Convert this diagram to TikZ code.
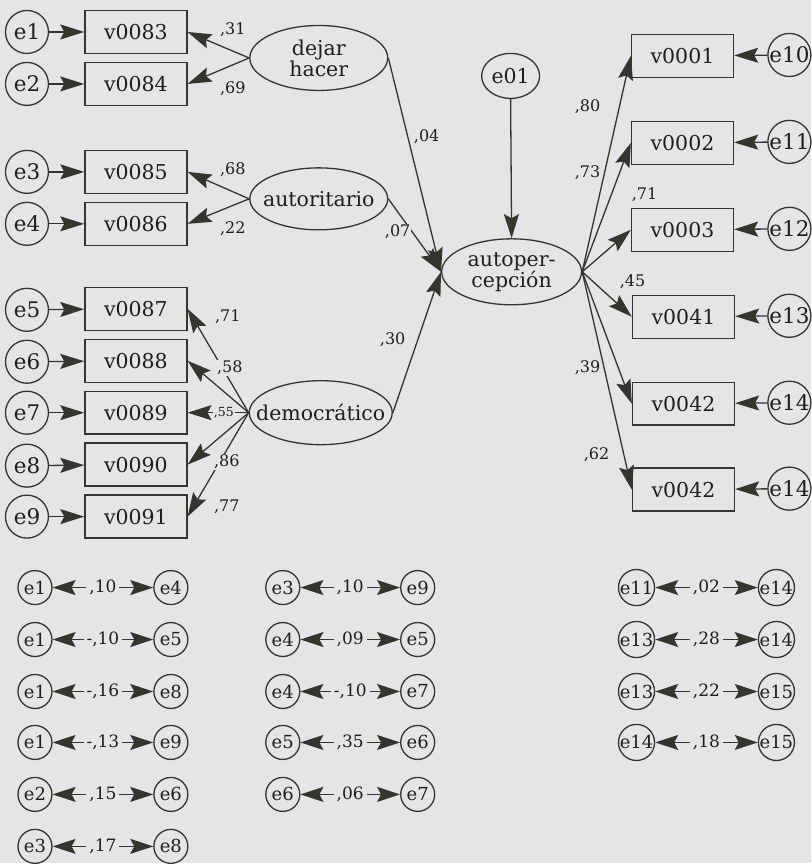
\documentclass[tikz,border=0pt]{standalone}
\usepackage{fontspec}
\setmainfont{DejaVu Serif}
\usepackage{tikz}
\usetikzlibrary{arrows.meta}
\usetikzlibrary{shapes.geometric}
\definecolor{ln}{HTML}{35352F}
\definecolor{bg}{HTML}{E4E5E7}
\definecolor{tx}{HTML}{1E1E1E}

\begin{document}
\begin{tikzpicture}[x=1pt,y=-1pt,
  obs/.style={draw=ln,line width=1.4pt,minimum width=102pt,minimum height=43pt,inner sep=0pt,text=tx,font=\fontsize{20.5}{21}\selectfont},
  err/.style={draw=ln,line width=1.3pt,circle,minimum size=43pt,inner sep=0pt,text=tx,font=\fontsize{21.5}{22}\selectfont},
  errs/.style={draw=ln,line width=1.3pt,circle,minimum size=34pt,inner sep=0pt,text=tx,font=\fontsize{18}{19}\selectfont},
  lat/.style={draw=ln,line width=1.3pt,ellipse,inner xsep=-14pt,inner ysep=0pt,align=center,text=tx,font=\fontsize{20.5}{21}\selectfont},
  coef/.style={fill=bg,inner sep=1pt,text=tx,font=\fontsize{16}{17}\selectfont},
  cov/.style={fill=bg,inner sep=3pt,text=tx,font=\fontsize{17}{18}\selectfont},
  arr/.style={draw=ln,line width=1.3pt,-{Stealth[length=24pt,width=15pt,inset=4pt]}},
  darr/.style={draw=ln,line width=1.3pt,{Stealth[length=23pt,width=15pt,inset=4pt]}-{Stealth[length=23pt,width=15pt,inset=4pt]}}
]

\fill[bg] (0,0) rectangle (812,864);

% left indicators
\node[err] (e1) at (27,32) {e1};
\node[err] (e2) at (27,84) {e2};
\node[err] (e3) at (27,172) {e3};
\node[err] (e4) at (27,224) {e4};
\node[err] (e5) at (27,310) {e5};
\node[err] (e6) at (27,362) {e6};
\node[err] (e7) at (27,413) {e7};
\node[err] (e8) at (27,466) {e8};
\node[err] (e9) at (27,517) {e9};

\node[obs] (v83) at (136,32) {v0083};
\node[obs] (v84) at (136,84) {v0084};
\node[obs] (v85) at (136,172) {v0085};
\node[obs] (v86) at (136,224) {v0086};
\node[obs] (v87) at (136,309) {v0087};
\node[obs] (v88) at (136,361) {v0088};
\node[obs] (v89) at (136,413) {v0089};
\node[obs] (v90) at (136,465) {v0090};
\node[obs] (v91) at (136,517) {v0091};

\draw[arr] (e1) -- (v83);
\draw[arr] (e2) -- (v84);
\draw[arr] (e3) -- (v85);
\draw[arr] (e4) -- (v86);
\draw[arr] (e5) -- (v87);
\draw[arr] (e6) -- (v88);
\draw[arr] (e7) -- (v89);
\draw[arr] (e8) -- (v90);
\draw[arr] (e9) -- (v91);

% latent variables
\node[lat,minimum width=138pt,minimum height=65pt] (dej) at (319,58) {dejar\\hacer};
\node[lat,minimum width=138pt,minimum height=62pt] (aut) at (319,199) {autoritario};
\node[lat,minimum width=142pt,minimum height=64pt] (dem) at (321,413) {democrático};
\node[lat,minimum width=140pt,minimum height=66pt] (ape) at (512,272) {autoper-\\cepción};
\node[lat,inner xsep=0pt,minimum width=58pt,minimum height=45pt] (e01) at (511,76) {e01};

\draw[arr] (dej.west) -- (v83.east);
\draw[arr] (dej.west) -- (v84.east);
\draw[arr] (aut.west) -- (v85.east);
\draw[arr] (aut.west) -- (v86.east);
\draw[arr] (dem.west) -- (v87.east);
\draw[arr] (dem.west) -- (v88.east);
\draw[arr] (dem.west) -- (v89.east);
\draw[arr] (dem.west) -- (v90.east);
\draw[arr] (dem.west) -- (v91.east);

\draw[arr] (dej.east) -- (ape.west);
\draw[arr] (aut.east) -- (ape.west);
\draw[arr] (dem.east) -- (ape.west);
\draw[arr] (e01.south) -- (ape.north);

% right indicators
\node[obs] (v01) at (683,56) {v0001};
\node[obs] (v02) at (683,143) {v0002};
\node[obs] (v03) at (683,230) {v0003};
\node[obs] (v41) at (684,317) {v0041};
\node[obs] (v42) at (684,404) {v0042};
\node[obs] (v42b) at (684,490) {v0042};

\node[err] (e10) at (790,55) {e10};
\node[err] (e11) at (790,142) {e11};
\node[err] (e12) at (790,229) {e12};
\node[err] (e13) at (790,316) {e13};
\node[err] (e14) at (790,403) {e14};
\node[err] (e14b) at (790,489) {e14};

\draw[arr] (ape.east) -- (v01.west);
\draw[arr] (ape.east) -- (v02.west);
\draw[arr] (ape.east) -- (v03.west);
\draw[arr] (ape.east) -- (v41.west);
\draw[arr] (ape.east) -- (v42.west);
\draw[arr] (ape.east) -- (v42b.west);

\draw[arr] (e10) -- (v01);
\draw[arr] (e11) -- (v02);
\draw[arr] (e12) -- (v03);
\draw[arr] (e13) -- (v41);
\draw[arr] (e14) -- (v42);
\draw[arr] (e14b) -- (v42b);

% coefficients
\node[coef] (l83) at (233,30) {,31};
\node[coef] (l84) at (233,89) {,69};
\node[coef] (l85) at (233,170) {,68};
\node[coef] (l86) at (233,229) {,22};
\node[coef] (l87) at (228,317) {,71};
\node[coef] (l88) at (230,368) {,58};
\node[coef,font=\fontsize{12.5}{13}\selectfont] (l89) at (224,413) {,55};
\node[coef] (l90) at (227,462) {,86};
\node[coef] (l91) at (227,507) {,77};
\node[coef] (ldej) at (427,137) {,04};
\node[coef] (laut) at (398,232) {,07};
\node[coef] (ldem) at (393,340) {,30};
\node[coef] (l01) at (588,107) {,80};
\node[coef] (l02) at (588,173) {,73};
\node[coef] (l03) at (645,195) {,71};
\node[coef] (l41) at (633,282) {,45};
\node[coef] (l42) at (588,368) {,39};
\node[coef] (l42b) at (597,455) {,62};

% covariances
\node[errs] (p1a) at (35,588) {e1};
\node[errs] (p1b) at (171,588) {e4};
\node[errs] (p2a) at (35,640) {e1};
\node[errs] (p2b) at (171,640) {e5};
\node[errs] (p3a) at (35,692) {e1};
\node[errs] (p3b) at (171,692) {e8};
\node[errs] (p4a) at (35,743) {e1};
\node[errs] (p4b) at (171,743) {e9};
\node[errs] (p5a) at (35,795) {e2};
\node[errs] (p5b) at (171,795) {e6};
\node[errs] (p6a) at (35,847) {e3};
\node[errs] (p6b) at (171,847) {e8};

\node[errs] (q1a) at (283,588) {e3};
\node[errs] (q1b) at (418,588) {e9};
\node[errs] (q2a) at (283,640) {e4};
\node[errs] (q2b) at (418,640) {e5};
\node[errs] (q3a) at (283,692) {e4};
\node[errs] (q3b) at (418,692) {e7};
\node[errs] (q4a) at (283,743) {e5};
\node[errs] (q4b) at (418,743) {e6};
\node[errs] (q5a) at (283,795) {e6};
\node[errs] (q5b) at (418,795) {e7};

\node[errs] (s1a) at (637,588) {e11};
\node[errs] (s1b) at (777,588) {e14};
\node[errs] (s2a) at (637,640) {e13};
\node[errs] (s2b) at (777,640) {e14};
\node[errs] (s3a) at (637,692) {e13};
\node[errs] (s3b) at (777,692) {e15};
\node[errs] (s4a) at (637,743) {e14};
\node[errs] (s4b) at (777,743) {e15};

\draw[darr] (p1a) -- node[cov] (kp1) {,10} (p1b);
\draw[darr] (p2a) -- node[cov] (kp2) {-,10} (p2b);
\draw[darr] (p3a) -- node[cov] (kp3) {-,16} (p3b);
\draw[darr] (p4a) -- node[cov] (kp4) {-,13} (p4b);
\draw[darr] (p5a) -- node[cov] (kp5) {,15} (p5b);
\draw[darr] (p6a) -- node[cov] (kp6) {,17} (p6b);

\draw[darr] (q1a) -- node[cov] (kq1) {,10} (q1b);
\draw[darr] (q2a) -- node[cov] (kq2) {,09} (q2b);
\draw[darr] (q3a) -- node[cov] (kq3) {-,10} (q3b);
\draw[darr] (q4a) -- node[cov] (kq4) {,35} (q4b);
\draw[darr] (q5a) -- node[cov] (kq5) {,06} (q5b);

\draw[darr] (s1a) -- node[cov] (ks1) {,02} (s1b);
\draw[darr] (s2a) -- node[cov] (ks2) {,28} (s2b);
\draw[darr] (s3a) -- node[cov] (ks3) {,22} (s3b);
\draw[darr] (s4a) -- node[cov] (ks4) {,18} (s4b);

\end{tikzpicture}
\end{document}
